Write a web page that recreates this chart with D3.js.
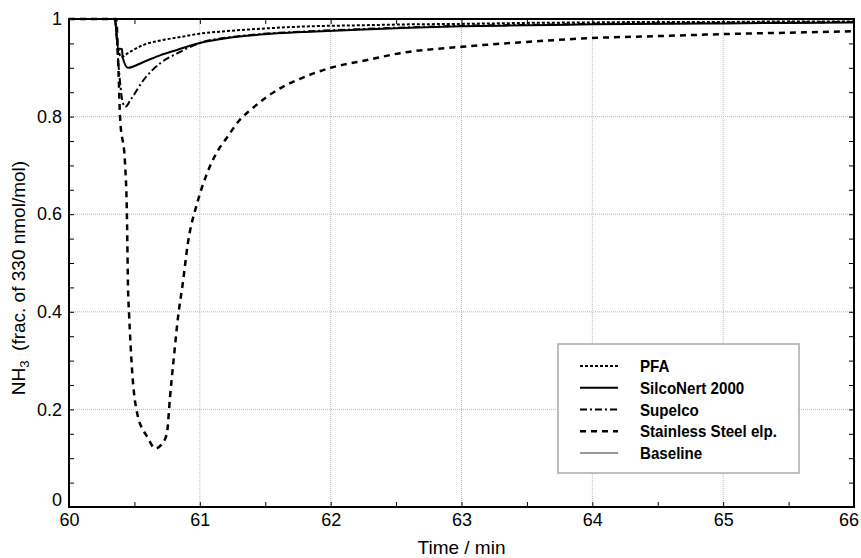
<!DOCTYPE html>
<html lang="en">
<head>
<meta charset="UTF-8">
<title>NH3 step response of tubing materials</title>
<script src="https://cdn.jsdelivr.net/npm/d3@7"></script>
<style>
body { margin: 0; background: #fff; }
text { font-family: "Liberation Sans", Arial, sans-serif; }
</style>
</head>
<body>
<div id="chart"></div>
<script>

// time in min, NH3 as fraction of 330 nmol/mol
var pfaTime = [60, 60.35, 60.37, 60.40, 60.45, 60.57, 60.70, 60.85, 61.0, 61.2, 61.46, 61.84, 62.2, 62.6, 63.0, 63.5, 64.0, 64.5, 65.0, 65.5, 66.0];
var pfaValue = [1, 1, 0.95, 0.922, 0.93, 0.947, 0.956, 0.963, 0.970, 0.975, 0.980, 0.985, 0.987, 0.989, 0.990, 0.992, 0.993, 0.994, 0.994, 0.995, 0.995];

var silcoTime = [60, 60.35, 60.375, 60.405, 60.41, 60.45, 60.57, 60.70, 60.83, 61.0, 61.21, 61.46, 61.84, 62.2, 62.6, 63.0, 63.5, 64.0, 65.0, 66.0];
var silcoValue = [1, 1, 0.94, 0.938, 0.922, 0.90, 0.912, 0.926, 0.937, 0.951, 0.961, 0.968, 0.974, 0.978, 0.982, 0.985, 0.987, 0.989, 0.991, 0.993];

var supelcoTime = [60, 60.35, 60.38, 60.41, 60.43, 60.47, 60.57, 60.70, 60.83, 61.0, 61.21, 61.46, 61.84, 62.2, 62.6, 63.0, 63.5, 64.0, 65.0, 66.0];
var supelcoValue = [1, 1, 0.90, 0.83, 0.82, 0.834, 0.875, 0.91, 0.93, 0.951, 0.962, 0.969, 0.975, 0.979, 0.983, 0.986, 0.988, 0.990, 0.992, 0.994];

var steelTime = [60, 60.36, 60.38, 60.39, 60.428, 60.443, 60.451, 60.459, 60.482, 60.52, 60.60, 60.66, 60.72, 60.749, 60.772, 60.799, 60.837, 60.868, 60.909, 60.98, 61.05, 61.12, 61.21, 61.31, 61.38, 61.51, 61.64, 61.77, 62.0, 62.28, 62.53, 63.0, 63.5, 64.0, 64.5, 65.0, 65.5, 66.0];
var steelValue = [1, 1, 0.88, 0.80, 0.705, 0.594, 0.45, 0.397, 0.281, 0.193, 0.143, 0.12, 0.133, 0.152, 0.225, 0.30, 0.397, 0.455, 0.541, 0.623, 0.68, 0.722, 0.758, 0.795, 0.812, 0.840, 0.862, 0.878, 0.90, 0.916, 0.93, 0.943, 0.953, 0.961, 0.965, 0.969, 0.972, 0.975];

var baselineTime = [60, 66];
var baselineValue = [1, 1];

var xTicks = [60, 61, 62, 63, 64, 65, 66];
var yTicks = [0, 0.2, 0.4, 0.6, 0.8, 1];
var yTickLabels = ["0", "0.2", "0.4", "0.6", "0.8", "1"];

var seriesNames = ["PFA", "SilcoNert 2000", "Supelco", "Stainless Steel elp.", "Baseline"];

var margin = {top: 19, right: 7, bottom: 51, left: 69};
var width = 861, height = 558;

var svg = d3.select("#chart").append("svg")
  .attr("width", width)
  .attr("height", height);

var x = d3.scaleLinear()
  .domain([60, 66])
  .range([margin.left, width - margin.right]);

var y = d3.scaleLinear()
  .domain([0, 1])
  .range([height - margin.bottom, margin.top]);

// grid
svg.append("g")
  .selectAll("line.gx")
  .data(xTicks.slice(1, -1))
  .join("line")
  .attr("x1", d => x(d)).attr("x2", d => x(d))
  .attr("y1", y(0)).attr("y2", y(1))
  .attr("stroke", "#b8b8b8").attr("stroke-width", 1)
  .attr("stroke-dasharray", "1,1");

svg.append("g")
  .selectAll("line.gy")
  .data(yTicks.slice(1, -1))
  .join("line")
  .attr("x1", x(60)).attr("x2", x(66))
  .attr("y1", d => y(d)).attr("y2", d => y(d))
  .attr("stroke", "#b8b8b8").attr("stroke-width", 1)
  .attr("stroke-dasharray", "1,1");

var styles = [
  {dash: "3,2", color: "#000", w: 2},
  {dash: null, color: "#000", w: 2},
  {dash: "7,3,2,3", color: "#000", w: 2},
  {dash: "6,5", color: "#000", w: 2.5},
  {dash: null, color: "#999", w: 2}
];

var series = [
  d3.zip(pfaTime, pfaValue),
  d3.zip(silcoTime, silcoValue),
  d3.zip(supelcoTime, supelcoValue),
  d3.zip(steelTime, steelValue),
  d3.zip(baselineTime, baselineValue)
];

var line = d3.line()
  .curve(d3.curveMonotoneX)
  .x(d => x(d[0]))
  .y(d => y(d[1]));

// baseline first, then the materials over it
[4, 3, 2, 1, 0].forEach(function(i) {
  svg.append("path")
    .datum(series[i])
    .attr("fill", "none")
    .attr("stroke", styles[i].color)
    .attr("stroke-width", styles[i].w)
    .attr("stroke-dasharray", styles[i].dash)
    .attr("d", line);
});

// axes, ticks pointing inward
function minor(step, lo, hi) { return d3.range(lo, hi + 1e-9, step); }

svg.append("g")
  .attr("transform", "translate(0," + y(0) + ")")
  .call(d3.axisBottom(x).tickValues(minor(0.5, 60, 66)).tickSize(-5).tickFormat(""))
  .call(g => g.select(".domain").remove());
svg.append("g")
  .attr("transform", "translate(0," + y(1) + ")")
  .call(d3.axisTop(x).tickValues(minor(0.5, 60, 66)).tickSize(-5).tickFormat(""))
  .call(g => g.select(".domain").remove());
svg.append("g")
  .attr("transform", "translate(" + x(60) + ",0)")
  .call(d3.axisLeft(y).tickValues(minor(0.05, 0, 1)).tickSize(-5).tickFormat(""))
  .call(g => g.select(".domain").remove());
svg.append("g")
  .attr("transform", "translate(" + x(66) + ",0)")
  .call(d3.axisRight(y).tickValues(minor(0.05, 0, 1)).tickSize(-5).tickFormat(""))
  .call(g => g.select(".domain").remove());

var xAxis = svg.append("g")
  .attr("transform", "translate(0," + y(0) + ")")
  .call(d3.axisBottom(x).tickValues(xTicks).tickSize(0).tickPadding(6).tickFormat(d3.format("d")))
  .call(g => g.select(".domain").remove());
xAxis.selectAll("text")
  .attr("font-size", 18).attr("fill", "#000")
  .attr("font-family", "'Liberation Sans', Arial, sans-serif")
  .attr("dx", d => d === 66 ? "-0.3em" : 0);

var yAxis = svg.append("g")
  .attr("transform", "translate(" + x(60) + ",0)")
  .call(d3.axisLeft(y).tickValues(yTicks).tickSize(0).tickPadding(7).tickFormat((d, i) => yTickLabels[i]))
  .call(g => g.select(".domain").remove());
yAxis.selectAll("text")
  .attr("font-size", 18).attr("fill", "#000")
  .attr("font-family", "'Liberation Sans', Arial, sans-serif")
  .attr("dy", d => d === 0 ? "-0.1em" : "0.32em");

// frame
svg.append("rect")
  .attr("x", x(60)).attr("y", y(1))
  .attr("width", x(66) - x(60)).attr("height", y(0) - y(1))
  .attr("fill", "none").attr("stroke", "#000").attr("stroke-width", 2);

// axis titles
svg.append("text")
  .attr("x", (x(60) + x(66)) / 2).attr("y", 554)
  .attr("text-anchor", "middle").attr("font-size", 19)
  .text("Time / min");

var yl = svg.append("text")
  .attr("transform", "translate(25,278) rotate(-90)")
  .attr("text-anchor", "middle").attr("font-size", 19);
yl.append("tspan").text("NH");
yl.append("tspan").attr("font-size", 13).attr("dy", 4).text("3");
yl.append("tspan").attr("dy", -4).text("\u2002(frac. of 330 nmol/mol)");

// legend
var legend = svg.append("g").attr("transform", "translate(558,344)");
legend.append("rect")
  .attr("width", 241).attr("height", 129)
  .attr("fill", "#fff").attr("stroke", "#aaa").attr("stroke-width", 1.5);

var rowY = d3.scaleLinear().domain([0, 4]).range([22, 109]);
seriesNames.forEach(function(name, i) {
  legend.append("line")
    .attr("x1", 22).attr("x2", 60)
    .attr("y1", rowY(i)).attr("y2", rowY(i))
    .attr("stroke", styles[i].color)
    .attr("stroke-width", styles[i].w)
    .attr("stroke-dasharray", styles[i].dash);
  legend.append("text")
    .attr("transform", "translate(82," + rowY(i) + ") scale(0.89,1)")
    .attr("dy", "0.36em")
    .attr("font-weight", "bold").attr("font-size", 17)
    .text(name);
});

</script>
</body>
</html>
